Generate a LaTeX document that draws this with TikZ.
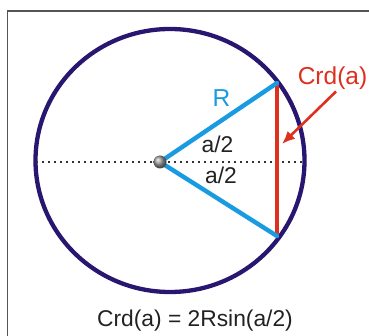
\documentclass[tikz,border=0pt]{standalone}
\usepackage{fontspec}
\setmainfont{Liberation Sans}
\usetikzlibrary{arrows.meta}
\definecolor{navy}{RGB}{40,22,112}
\definecolor{skyb}{RGB}{25,155,225}
\definecolor{redc}{RGB}{222,48,30}
\definecolor{txt}{RGB}{34,34,34}
\definecolor{frame}{RGB}{85,85,85}
\tikzset{
  radius line/.style={draw=skyb,line width=4.4pt},
  chord line/.style={draw=redc,line width=3.8pt},
  lbl/.style={inner sep=0pt,anchor=base,text=txt,font=\fontsize{22.8}{27}\selectfont},
  frameline/.style={draw=frame,line width=1.3pt},
}
\begin{document}
\begin{tikzpicture}[x=1pt,y=-1pt]
\useasboundingbox (0,0) rectangle (369,336);
% frame
\draw[frameline] (7,11) -- (369,11);
\draw[frameline] (7.5,11) -- (7.5,336);
% circle
\draw[navy,line width=4.3pt] (170,160.5) ellipse [x radius=134.5,y radius=131.5];
% points
\coordinate (O) at (160,162);
\coordinate (L) at (36,162);
\coordinate (Rt) at (303,162);
\coordinate (A) at (277,83);
\coordinate (B) at (277,236);
% dotted diameter
\draw[black!80,line width=1.8pt,dash pattern=on 1.8pt off 4.2pt] (L) -- (Rt);
% chord
\draw[chord line] (A) -- (B);
% radii
\draw[radius line,line cap=round] (O) -- (A);
\draw[radius line,line cap=round] (O) -- (B);
% center ball
\shade[ball color=gray!80] (O) circle (6.5);
% labels
\node[lbl,text=skyb,font=\fontsize{24.5}{28}\selectfont] (Rlab) at (221.5,107) {R};
\node[lbl] (h1) at (217.5,153) {a/2};
\node[lbl] (h2) at (221,183.5) {a/2};
\node[lbl,text=redc,font=\fontsize{24.5}{28}\selectfont] (crd) at (332.5,85) {Crd(a)};
\node[lbl] (formula) at (195,326) {Crd(a) = 2Rsin(a/2)};
% arrow
\coordinate (arrS) at (336,91.5);
\coordinate (arrE) at (282,144);
\draw[redc,line width=2.6pt,-{Latex[length=13pt,width=11pt]}] (arrS) -- (arrE);
\end{tikzpicture}
\end{document}
